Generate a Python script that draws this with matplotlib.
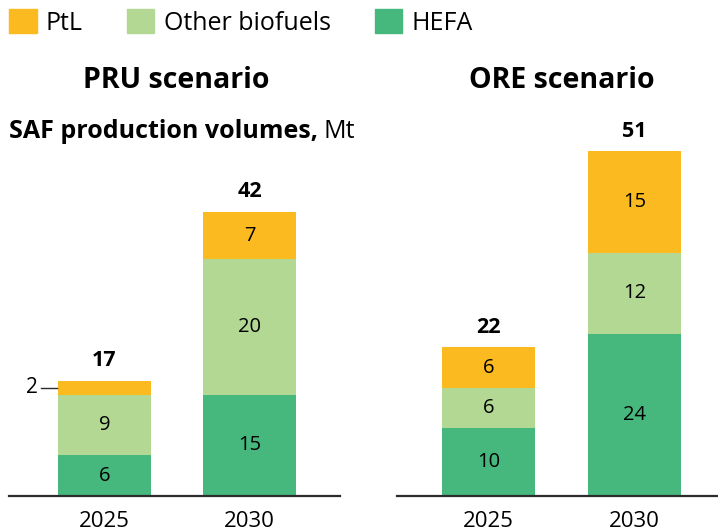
# Producción de SAF por escenario, barras apiladas
import numpy as np
import matplotlib.pyplot as plt
from matplotlib.patches import Patch

plt.rcParams['font.family'] = ['Open Sans', 'DejaVu Sans']

# INGRESO
anios = ['2025', '2030']

hefa_pru = [6, 15]
otros_pru = [9, 20]
ptl_pru = [2, 7]

hefa_ore = [10, 24]
otros_ore = [6, 12]
ptl_ore = [6, 15]

c_ptl = '#FBBA1F'
c_otros = '#B2D894'
c_hefa = '#46B87D'

# PROCEDIMIENTO
W, H = 718, 531
fig = plt.figure(figsize=(W/100, H/100), dpi=100)

base = 496     # linea base en pixeles desde arriba
tope = 130
escala = 6.76  # pixeles por Mt


def ejes(x0, x1, c0, c1):
    ax = fig.add_axes([x0/W, (H-base)/H, (x1-x0)/W, (base-tope)/H])
    paso = c1 - c0
    ax.set_xlim(-(c0-x0)/paso, 1 + (x1-c1)/paso)
    ax.set_ylim(0, (base-tope)/escala)
    for lado in ['left', 'right', 'top']:
        ax.spines[lado].set_visible(False)
    ax.spines['bottom'].set_linewidth(1.6)
    ax.spines['bottom'].set_color('#2b2b2b')
    ax.set_yticks([])
    ax.set_xticks(range(len(anios)))
    ax.set_xticklabels(anios, fontsize=16)
    ax.tick_params(axis='x', length=0, pad=11)
    return ax


def apilar(ax, hefa, otros, ptl, ocultar=()):
    x = np.arange(len(anios))
    ancho = 0.64
    b1 = ax.bar(x, hefa, ancho, color=c_hefa)
    b2 = ax.bar(x, otros, ancho, bottom=hefa, color=c_otros)
    abajo = np.array(hefa) + np.array(otros)
    b3 = ax.bar(x, ptl, ancho, bottom=abajo, color=c_ptl)
    ax.bar_label(b1, label_type='center', fontsize=14.5)
    ax.bar_label(b2, label_type='center', fontsize=14.5)
    etq = ['' if i in ocultar else str(v) for i, v in enumerate(ptl)]
    ax.bar_label(b3, labels=etq, label_type='center', fontsize=14.5)
    total = abajo + np.array(ptl)
    ax.bar_label(b3, labels=[str(t) for t in total], padding=7,
                 fontsize=15.5, fontweight='bold')
    return x, ancho, abajo


ax1 = ejes(9, 340, 104.5, 249.5)
x, ancho, abajo = apilar(ax1, hefa_pru, otros_pru, ptl_pru, ocultar=(0,))
# etiqueta externa del segmento pequeño
ymed = abajo[0] + ptl_pru[0]/2
ax1.plot([x[0]-ancho/2-0.12, x[0]-ancho/2-0.01], [ymed, ymed],
         color='#2b2b2b', lw=1)
ax1.text(x[0]-ancho/2-0.14, ymed, str(ptl_pru[0]), ha='right',
         va='center', fontsize=15)

ax2 = ejes(397, 718, 488.5, 634.5)
apilar(ax2, hefa_ore, otros_ore, ptl_ore)

# SALIDA
fig.text(176/W, 1-81/H, 'PRU scenario', ha='center', va='center',
         fontsize=20.5, fontweight='bold')
fig.text(562/W, 1-81/H, 'ORE scenario', ha='center', va='center',
         fontsize=20.5, fontweight='bold')

t = fig.text(9/W, 1-131/H, 'SAF production volumes,', ha='left',
             va='center', fontsize=18, fontweight='bold')
r = fig.canvas.get_renderer()
bb = t.get_window_extent(renderer=r)
fig.text((bb.x1 + 6)/W, 1-131/H, 'Mt', ha='left', va='center',
         fontsize=18)

manejos = [Patch(color=c_ptl), Patch(color=c_otros), Patch(color=c_hefa)]
fig.legend(manejos, ['PtL', 'Other biofuels', 'HEFA'], loc='upper left',
           bbox_to_anchor=(9/W, 1-9/H), ncol=3, frameon=False, fontsize=18,
           handlelength=1.1, handleheight=1.1, handletextpad=0.38,
           columnspacing=1.75, borderpad=0, borderaxespad=0)

plt.savefig('out.png', dpi=100)
